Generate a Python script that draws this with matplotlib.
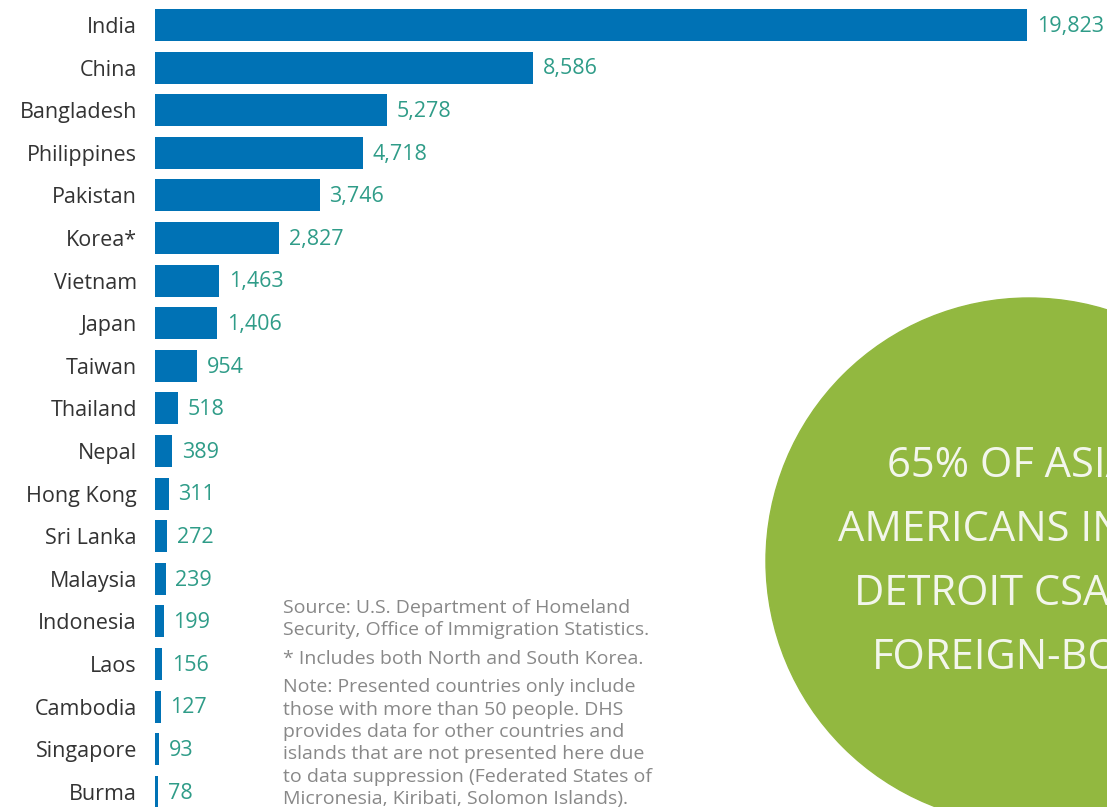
import matplotlib.pyplot as plt
from matplotlib.patches import Ellipse

countries = ["India", "China", "Bangladesh", "Philippines", "Pakistan", "Korea*",
             "Vietnam", "Japan", "Taiwan", "Thailand", "Nepal", "Hong Kong",
             "Sri Lanka", "Malaysia", "Indonesia", "Laos", "Cambodia",
             "Singapore", "Burma"]
values = [19823, 8586, 5278, 4718, 3746, 2827, 1463, 1406, 954, 518, 389, 311,
          272, 239, 199, 156, 127, 93, 78]

notes = [
    ["Source: U.S. Department of Homeland",
     "Security, Office of Immigration Statistics."],
    ["* Includes both North and South Korea."],
    ["Note: Presented countries only include",
     "those with more than 50 people. DHS",
     "provides data for other countries and",
     "islands that are not presented here due",
     "to data suppression (Federated States of",
     "Micronesia, Kiribati, Solomon Islands)."],
]
callout = ["65% OF ASIAN", "AMERICANS IN THE", "DETROIT CSA ARE", "FOREIGN-BORN"]

W, H = 1107, 807
plt.rcParams["font.family"] = ["Open Sans", "DejaVu Sans"]
fig = plt.figure(figsize=(W / 100, H / 100), dpi=100)

# circle callout (figure coords)
cx, cy, r = 1029, 561, 263
fig.patches.append(Ellipse((cx / W, 1 - cy / H), 2 * r / W, 2 * r / H,
                           transform=fig.transFigure, color="#92b840", zorder=0))
for i, line in enumerate(callout):
    fig.text((cx - 4) / W, 1 - (466 + 64 * i) / H, line, ha="center", va="center",
             fontsize=30, color="#f3f6ec")

ax = fig.add_axes([155 / W, 0, 1 - 155 / W, 1])
ax.patch.set_alpha(0)
px_per_unit = 872 / 19823
ax.set_xlim(0, (W - 155) / px_per_unit)
step = 42.6
ax.set_ylim((H - 25) / step, -25 / step)
y = list(range(len(countries)))
ax.barh(y, values, height=0.75, color="#0072b5")
for yi, v in zip(y, values):
    ax.annotate(f"{v:,}", (v, yi), xytext=(7, -1), textcoords="offset points",
                ha="left", va="center", fontsize=15.5, color="#2f9c88")
ax.set_yticks(y, countries, fontsize=15.5, color="#333333")
ax.tick_params(axis="y", length=0, pad=13)
ax.set_xticks([])
for s in ax.spines.values():
    s.set_visible(False)

ny = 608
for block in notes:
    for line in block:
        fig.text(283 / W, 1 - ny / H, line, ha="left", va="center",
                 fontsize=14, color="#888888")
        ny += 22.4
    ny += 6

fig.savefig("out.png", dpi=100)
